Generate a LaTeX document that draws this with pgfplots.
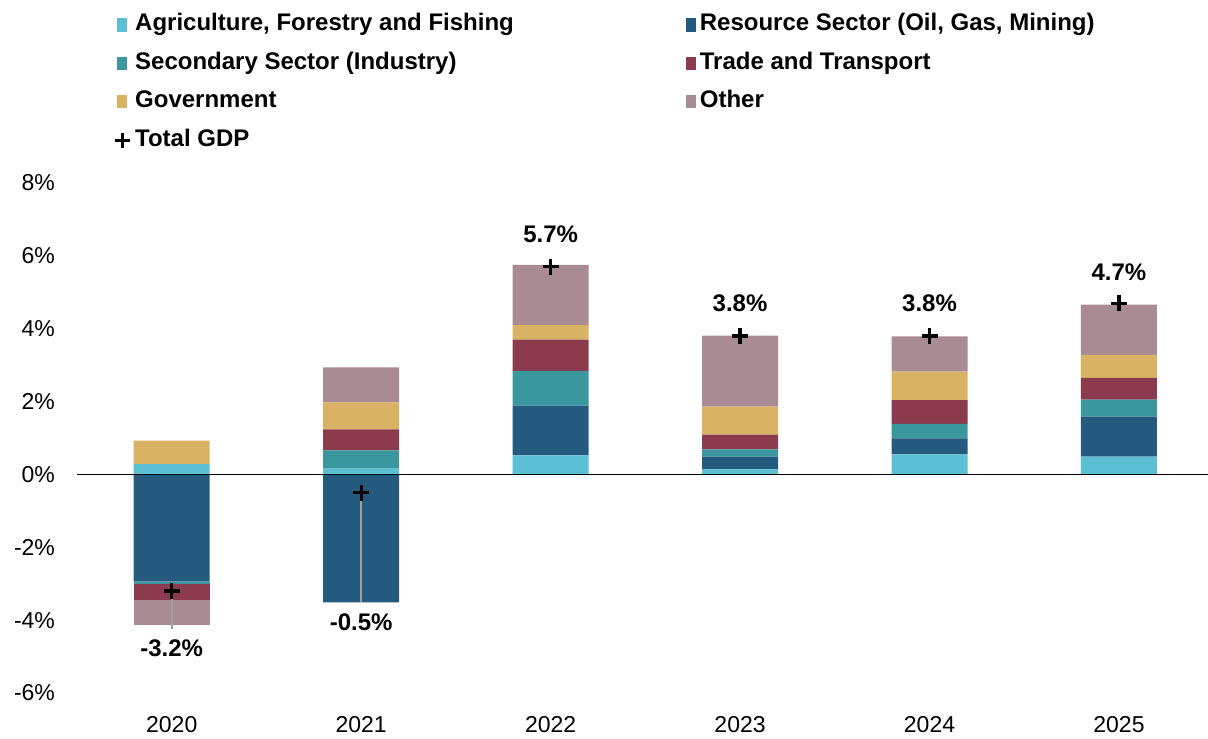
\documentclass[border=0pt]{standalone}
\usepackage{pgfplots}
\usepackage{pgfplotstable}
\pgfplotsset{compat=1.18}
\usepackage{fontspec}
\setmainfont{Liberation Sans}
\definecolor{agc}{HTML}{5BC0D3}
\definecolor{resc}{HTML}{245A7E}
\definecolor{secc}{HTML}{3A979D}
\definecolor{trac}{HTML}{8C3A4E}
\definecolor{govc}{HTML}{D9B263}
\definecolor{othc}{HTML}{A98B94}
\definecolor{linec}{HTML}{A0A0A0}

% positive contributions
\pgfplotstableread{
x ag res sec tra gov oth
0 0.28 0 0 0 0.65 0
1 0.16 0 0.50 0.58 0.74 0.96
2 0.52 1.37 0.95 0.86 0.40 1.65
3 0.14 0.35 0.20 0.40 0.77 1.95
4 0.55 0.44 0.40 0.65 0.78 0.97
5 0.49 1.10 0.46 0.60 0.63 1.38
}\postab
% negative contributions
\pgfplotstableread{
x ag res sec tra gov oth
0 0 -2.94 -0.06 -0.44 0 -0.69
1 0 -3.51 0 0 0 0
2 0 0 0 0 0 0
3 0 0 0 0 0 0
4 0 0 0 0 0 0
5 0 0 0 0 0 0
}\negtab
% total GDP and label positions
\pgfplotstableread{
x y ly label
0 -3.2 -4.78 {-3.2\%}
1 -0.5 -4.07 {-0.5\%}
2 5.7 6.59 {5.7\%}
3 3.8 4.70 {3.8\%}
4 3.8 4.70 {3.8\%}
5 4.7 5.55 {4.7\%}
}\tottab

\pgfplotsset{
  common/.style={
    width=565.5pt, height=255pt, scale only axis,
    xmin=-0.5, xmax=5.47, ymin=-6, ymax=8,
    at={(0pt,0pt)}, anchor=south west,
  },
  sq/.style={legend image code/.code={\path[##1] (0pt,-3.3pt) rectangle (5pt,3.3pt);}},
}

\begin{document}
\begin{tikzpicture}
\useasboundingbox (-38.5pt,-22.5pt) rectangle (565.5pt,346.5pt);
\begin{axis}[common,
  ybar stacked, bar width=38pt,
  axis line style={draw=none}, major tick length=0pt,
  xtick={0,1,2,3,4,5}, xticklabels={2020,2021,2022,2023,2024,2025},
  ytick={-6,-4,-2,0,2,4,6,8},
  yticklabels={-6\%,-4\%,-2\%,0\%,2\%,4\%,6\%,8\%},
  tick label style={font=\fontsize{11.5}{13}\selectfont},
  yticklabel style={xshift=-7.5pt},
  xticklabel style={yshift=-8pt},
  legend columns=2, legend cell align=left,
  legend style={at={(axis description cs:0.0265,1.348)}, anchor=north west,
    draw=none, fill=none, font=\bfseries\fontsize{12}{14}\selectfont,
    nodes={text height=8.5pt, text depth=2.5pt, inner sep=2pt},
    row sep=4.2pt,
    /tikz/every even column/.append style={column sep=84pt}},
]
\addplot[fill=agc, draw=none, sq] table[x=x,y=ag] {\postab};
\addlegendentry{Agriculture, Forestry and Fishing}
\addplot[fill=resc, draw=none, sq] table[x=x,y=res] {\postab};
\addlegendentry{Resource Sector (Oil, Gas, Mining)}
\addplot[fill=secc, draw=none, sq] table[x=x,y=sec] {\postab};
\addlegendentry{Secondary Sector (Industry)}
\addplot[fill=trac, draw=none, sq] table[x=x,y=tra] {\postab};
\addlegendentry{Trade and Transport}
\addplot[fill=govc, draw=none, sq] table[x=x,y=gov] {\postab};
\addlegendentry{Government}
\addplot[fill=othc, draw=none, sq] table[x=x,y=oth] {\postab};
\addlegendentry{Other}
\addlegendimage{legend image code/.code={\draw[black,line width=1.4pt] (-1pt,0pt)--(6.5pt,0pt) (2.75pt,-3.75pt)--(2.75pt,3.75pt);}}
\addlegendentry{Total GDP}
\end{axis}
\begin{axis}[common, hide axis, ybar stacked, bar width=38pt]
\addplot[fill=agc, draw=none] table[x=x,y=ag] {\negtab};
\addplot[fill=resc, draw=none] table[x=x,y=res] {\negtab};
\addplot[fill=secc, draw=none] table[x=x,y=sec] {\negtab};
\addplot[fill=trac, draw=none] table[x=x,y=tra] {\negtab};
\addplot[fill=govc, draw=none] table[x=x,y=gov] {\negtab};
\addplot[fill=othc, draw=none] table[x=x,y=oth] {\negtab};
\end{axis}
\begin{axis}[common, hide axis]
\draw[black, line width=0.8pt] (axis cs:-0.5,0) -- (axis cs:5.47,0);
\addplot[linec, line width=1pt] coordinates {(0,-3.2) (0,-4.23)};
\addplot[linec, line width=1pt] coordinates {(1,-0.5) (1,-3.51)};
\addplot[only marks, mark=+, black, mark size=4pt, mark options={line width=1.6pt}] table[x=x,y=y] {\tottab};
\addplot[only marks, mark=none, nodes near coords, point meta=explicit symbolic,
  every node near coord/.append style={anchor=center, font=\bfseries\fontsize{12}{14}\selectfont, black}]
  table[x=x,y=ly,meta=label] {\tottab};
\end{axis}
\end{tikzpicture}
\end{document}
